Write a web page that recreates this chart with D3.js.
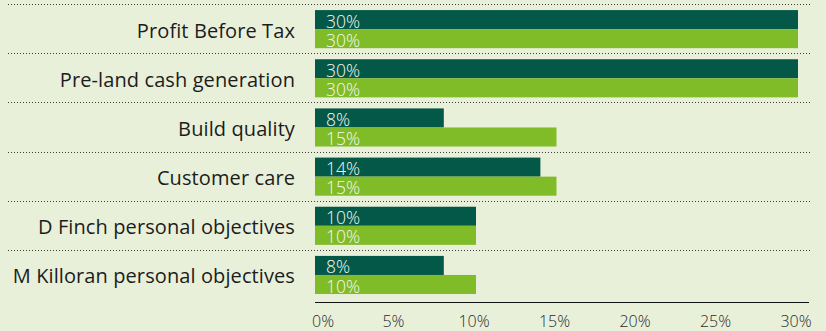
<!DOCTYPE html>
<html>
<head>
<meta charset="utf-8">
<script src="https://cdn.jsdelivr.net/npm/d3@7"></script>
<style>
  html, body { margin: 0; padding: 0; background: #e9f0da; }
  svg { display: block; }
  text { font-family: "Open Sans", "Lato", sans-serif; }
</style>
</head>
<body>
<svg id="chart" width="826" height="331"></svg>
<script>
// Bonus measures and their weightings
const categories = [
  "Profit Before Tax",
  "Pre-land cash generation",
  "Build quality",
  "Customer care",
  "D Finch personal objectives",
  "M Killoran personal objectives"
];
const seriesNames = ["Previous", "Current"];
const previousValues = [30, 30, 8, 14, 10, 8];
const currentValues = [30, 30, 15, 15, 10, 10];
const tickValues = [0, 5, 10, 15, 20, 25, 30];
const colors = ["#035848", "#80bb28"];

const svg = d3.select("#chart");
const W = 826, H = 331;
const margin = { left: 315, right: 28, top: 4, bottom: 32 };

const x = d3.scaleLinear().domain([0, 30]).range([margin.left, 798]);
const y0 = d3.scaleBand().domain(categories).range([margin.top, H - margin.bottom]).padding(0);
const y1 = d3.scaleBand().domain(seriesNames).range([0, y0.bandwidth()])
  .paddingInner(0).paddingOuter(0.29).align(0.55);

const rows = categories.map((c, i) => ({
  cat: c,
  vals: [previousValues[i], currentValues[i]]
}));

// Dotted separators above each row
svg.append("g").selectAll("line").data(categories).join("line")
  .attr("x1", 8).attr("x2", 812)
  .attr("y1", d => Math.round(y0(d)) + 0.5)
  .attr("y2", d => Math.round(y0(d)) + 0.5)
  .attr("stroke", "#3d3d3d")
  .attr("stroke-width", 1)
  .attr("stroke-dasharray", "1,2");

// Category labels
svg.append("g").selectAll("text").data(categories).join("text")
  .attr("x", 295)
  .attr("y", d => y0(d) + y0.bandwidth() / 2)
  .attr("dy", "0.45em")
  .attr("text-anchor", "end")
  .attr("font-size", 20)
  .attr("letter-spacing", 0.1)
  .attr("fill", "#1c1c1c")
  .text(d => d);

// Bars and value labels
const g = svg.append("g").selectAll("g").data(rows).join("g")
  .attr("transform", d => `translate(0,${y0(d.cat)})`);

g.selectAll("rect").data(d => d.vals.map((v, i) => ({ v, s: seriesNames[i], i }))).join("rect")
  .attr("x", x(0))
  .attr("y", d => y1(d.s))
  .attr("width", d => x(d.v) - x(0))
  .attr("height", y1.bandwidth())
  .attr("fill", d => colors[d.i]);

g.selectAll("text").data(d => d.vals.map((v, i) => ({ v, s: seriesNames[i], i }))).join("text")
  .attr("x", x(0) + 11)
  .attr("y", d => y1(d.s) + y1.bandwidth() - 1.5)
  .attr("font-size", 17.5)
  .attr("font-weight", 300)
  .attr("fill", "#f6f8f1")
  .text(d => d.v + "%");

// Horizontal axis
const axis = svg.append("g").attr("transform", `translate(0,${H - 29})`);
axis.append("line")
  .attr("x1", x(0)).attr("x2", 809)
  .attr("y1", 0.5).attr("y2", 0.5)
  .attr("stroke", "#111").attr("stroke-width", 1);
axis.selectAll("text").data(tickValues).join("text")
  .attr("x", d => x(d))
  .attr("y", 24.5)
  .attr("text-anchor", (d, i) => i === 0 ? "start" : "middle")
  .attr("dx", (d, i) => i === 0 ? -3 : -2)
  .attr("font-size", 16)
  .attr("font-weight", 300)
  .attr("fill", "#2a2a2a")
  .text(d => d + "%");
</script>
</body>
</html>
